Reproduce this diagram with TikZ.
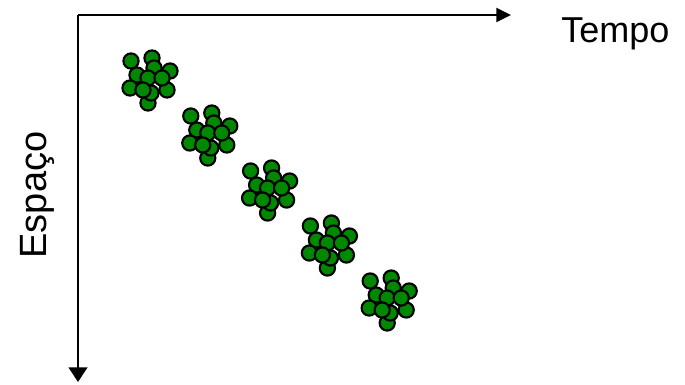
\documentclass[tikz,border=0pt]{standalone}
\usepackage{fontspec}
\setmainfont{Liberation Sans}
\usetikzlibrary{arrows.meta}
\definecolor{ballgreen}{RGB}{0,136,0}
\tikzset{
  ball/.style={circle, draw=black, fill=ballgreen, line width=1.6pt, minimum size=11.4pt, inner sep=0pt},
  axis/.style={line width=1.6pt},
  lbl/.style={font=\fontsize{27}{32}\selectfont, inner sep=0pt}
}
\begin{document}
\begin{tikzpicture}[x=0.75pt,y=-0.75pt]
\useasboundingbox (0,0) rectangle (685,385);
\coordinate (corner) at (78,15);
\coordinate (xend) at (511,15);
\coordinate (yend) at (78,382);
\draw[axis,-{Triangle[length=11pt,width=10.5pt]}] (corner) -- (xend);
\draw[axis,-{Triangle[length=11pt,width=14pt]}] (corner) -- (yend);
\node[lbl, anchor=base west] (tempo) at (561,43) {Tempo};
\node[lbl, font=\fontsize{28.5}{34}\selectfont, rotate=90, anchor=base] (espaco) at (46,195) {Espaço};
\foreach \cx/\cy [count=\k] in {150/80, 209.8/135, 269.6/190, 329.4/245, 389.2/300} {
  \foreach \dx/\dy [count=\n] in {-19/-19, 2/-22, 20/-9, 17/10, -2/23, -13/-5, -20/8, 1/13, 4/-12, -2/-2, 12/-2, -7/10} {
    \node[ball] (b\k-\n) at (\cx+\dx,\cy+\dy) {};
  }
}
\end{tikzpicture}
\end{document}
